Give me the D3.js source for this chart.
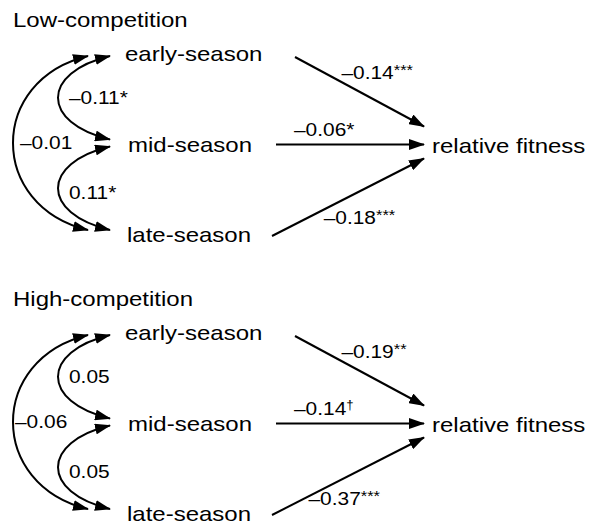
<!DOCTYPE html>
<html>
<head>
<meta charset="utf-8">
<script src="https://cdn.jsdelivr.net/npm/d3@7"></script>
<style>
   html, body { margin: 0; padding: 0; background: white; }
   svg text { font-family: "Liberation Sans", Arial, sans-serif; fill: black; }
</style>
</head>
<body>
<div id="chart"></div>
<script>

// DATA -- NODES, PANELS AND COEFFICIENTS
var panels = ['Low-competition', 'High-competition'];
var predictors = ['early-season', 'mid-season', 'late-season'];
var outcome = 'relative fitness';

// DIRECT PATHS (PREDICTOR -> RELATIVE FITNESS)
var lowPathValues = [-0.14, -0.06, -0.18];
var lowPathSig = ['***', '*', '***'];
var highPathValues = [-0.19, -0.14, -0.37];
var highPathSig = ['**', '†', '***'];

// CORRELATIONS BETWEEN PREDICTORS
var covPairs = [['early-season', 'mid-season'], ['mid-season', 'late-season'], ['early-season', 'late-season']];
var lowCovValues = [-0.11, 0.11, -0.01];
var lowCovSig = ['*', '*', ''];
var highCovValues = [0.05, 0.05, -0.06];
var highCovSig = ['', '', ''];

// LAYOUT SETTINGS
var settings = {
   width: 589,
   height: 525,
   font: { node: 20, label: 19 },
   stretch: { node: 1.2, label: 1.1 },
   stroke: 2,
   center: -7,
   title: { x: 13, y: 27 },
   nodeX: [125, 128, 127],
   outcomeX: 432,
   arrowStartX: [295, 276, 272],
   arrowStartDy: [3, 0, 1],
   arrowEndX: 424,
   arrowEndDy: [-18, 0, 14],
   arc: { inner: { tip: 110, left: 58 }, outer: { tip: 88, left: 13 } },
   panelLayout: [
      { outerLabelX: 20, late: { t: 0.34, dy: 14 } },
      { outerLabelX: 15, late: { t: 0.24, dy: 9 } }
   ]
};

var panelData = [
   { values: lowPathValues, sig: lowPathSig, cov: lowCovValues, covSig: lowCovSig },
   { values: highPathValues, sig: highPathSig, cov: highCovValues, covSig: highCovSig }
];

// SCALES
var panelY = d3.scalePoint().domain(panels).range([0, 279]);
var rowY = d3.scalePoint().domain(predictors).range([61, 242]);

// NUMBER FORMAT WITH EN DASH
function fmt(v) {
   return (v < 0 ? '\u2013' : '') + Math.abs(v).toFixed(2);
}

// SVG
var svg = d3.select('#chart').append('svg')
   .attr('width', settings.width)
   .attr('height', settings.height);

// ARROW HEAD
svg.append('defs').append('marker')
   .attr('id', 'head')
   .attr('markerUnits', 'userSpaceOnUse')
   .attr('viewBox', '0 0 16 11')
   .attr('markerWidth', 16)
   .attr('markerHeight', 11)
   .attr('refX', 15)
   .attr('refY', 5.5)
   .attr('orient', 'auto-start-reverse')
   .append('path')
   .attr('d', 'M0,0 L16,5.5 L0,11 Z')
   .attr('fill', 'black');

// STRETCHED TEXT HELPER
function addText(g, x, y, size, sx, str) {
   return g.append('text')
      .attr('transform', 'translate(' + x + ',' + y + ') scale(' + sx + ',1)')
      .attr('font-size', size)
      .text(str);
}

// LABEL WITH SIGNIFICANCE MARK
function addLabel(g, x, y, value, sig) {
   var t = addText(g, x, y, settings.font.label, settings.stretch.label, fmt(value));
   if (sig.length > 1) {
      t.append('tspan').attr('font-size', 15).attr('dy', -4).text(sig);
   } else if (sig === '†') {
      t.append('tspan').attr('font-size', 12).attr('dy', -6).text(sig);
   } else if (sig) {
      t.append('tspan').text(sig);
   }
   return t;
}

// DRAW EACH PANEL
panels.forEach(function (panel, p) {

   var g = svg.append('g').attr('transform', 'translate(0,' + panelY(panel) + ')');
   var d = panelData[p];
   var lay = settings.panelLayout[p];
   var cy = function (name) { return rowY(name) + settings.center; };

   // TITLE
   addText(g, settings.title.x, settings.title.y, settings.font.node, settings.stretch.node, panel);

   // PREDICTOR NODES
   predictors.forEach(function (name, i) {
      addText(g, settings.nodeX[i], rowY(name), settings.font.node, settings.stretch.node, name);
   });

   // OUTCOME NODE
   addText(g, settings.outcomeX, rowY('mid-season') + 1, settings.font.node, settings.stretch.node, outcome);

   // DIRECT ARROWS
   var outY = cy('mid-season');
   predictors.forEach(function (name, i) {
      var x0 = settings.arrowStartX[i], y0 = cy(name) + settings.arrowStartDy[i];
      var x1 = settings.arrowEndX, y1 = outY + settings.arrowEndDy[i];

      g.append('path')
         .attr('d', d3.line()([[x0, y0], [x1, y1]]))
         .attr('stroke', 'black')
         .attr('stroke-width', settings.stroke)
         .attr('fill', 'none')
         .attr('marker-end', 'url(#head)');

      // LABEL POSITION ALONG THE ARROW
      var lx, ly;
      if (i === 0) {
         lx = x0 + 0.36 * (x1 - x0); ly = y0 + 0.36 * (y1 - y0) - 3;
      } else if (i === 1) {
         lx = 294; ly = y0 - 9;
      } else {
         lx = x0 + lay.late.t * (x1 - x0); ly = y0 + lay.late.t * (y1 - y0) + lay.late.dy;
      }
      addLabel(g, lx, ly, d.values[i], d.sig[i]);
   });

   // CORRELATION ARCS
   covPairs.forEach(function (pair, k) {
      var ia = predictors.indexOf(pair[0]), ib = predictors.indexOf(pair[1]);
      var a = (ib - ia) > 1 ? settings.arc.outer : settings.arc.inner;
      var y0 = cy(pair[0]) + 2, y1 = cy(pair[1]) - 5;
      var cx = (a.left - 0.25 * a.tip) / 0.75;
      var dy = 0.24 * Math.abs(cx - a.tip);
      var path = d3.path();
      path.moveTo(a.tip, y0);
      path.bezierCurveTo(cx, y0 + dy, cx, y1 - dy, a.tip, y1);

      g.append('path')
         .attr('d', path.toString())
         .attr('stroke', 'black')
         .attr('stroke-width', settings.stroke)
         .attr('fill', 'none')
         .attr('marker-start', 'url(#head)')
         .attr('marker-end', 'url(#head)');

      // LABEL
      var lx, ly;
      if ((ib - ia) > 1) {
         lx = lay.outerLabelX; ly = rowY('mid-season') - 3;
      } else {
         lx = 69;
         ly = (rowY(pair[0]) + rowY(pair[1])) / 2 + (ia === 0 ? -2 : 2);
      }
      addLabel(g, lx, ly, d.cov[k], d.covSig[k]);
   });
});

</script>
</body>
</html>
